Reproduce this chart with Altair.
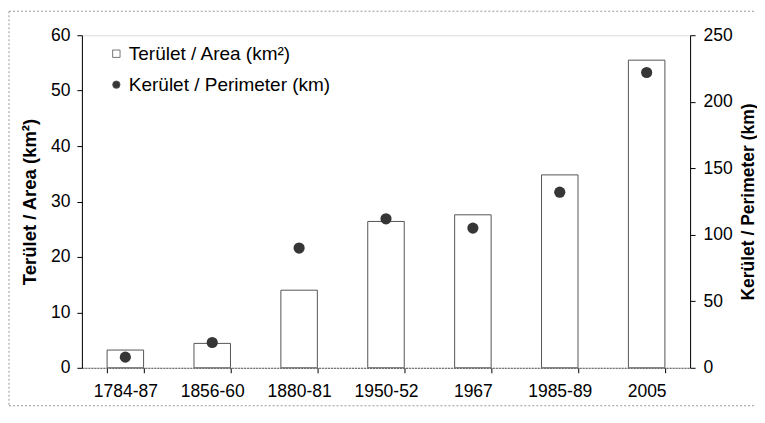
import altair as alt
import pandas as pd

periods = ["1784-87", "1856-60", "1880-81", "1950-52", "1967", "1985-89", "2005"]
area_km2 = [3.2, 4.4, 14.0, 26.4, 27.6, 34.8, 55.5]
perimeter_km = [8, 19, 90, 112, 105, 132, 222]

area_label = "Terület / Area (km²)"
perim_label = "Kerület / Perimeter (km)"
area_ticks = [0, 10, 20, 30, 40, 50, 60]
perim_ticks = [0, 50, 100, 150, 200, 250]

area_df = pd.DataFrame({"period": periods, "value": area_km2, "series": area_label})
perim_df = pd.DataFrame({"period": periods, "value": perimeter_km, "series": perim_label})
frame_df = pd.DataFrame({"f": [0]})

FONT = "Liberation Sans"

x_enc = alt.X(
    "period:N", sort=periods, title=None,
    scale=alt.Scale(paddingInner=0.58, paddingOuter=0.29),
    axis=alt.Axis(labelAngle=0, tickBand="extent", labelFontSize=17.5, labelColor="black",
                  domainColor="#555", domainDash=[2, 1], tickColor="black", tickSize=5,
                  labelPadding=10, labelFont=FONT),
)

series_domain = [area_label, perim_label]
fill_scale = alt.Scale(domain=series_domain, range=["white", "#363636"])
shape_scale = alt.Scale(domain=series_domain, range=["square", "circle"])


def make_legend():
    return alt.Legend(title=None, orient="none", legendX=25, legendY=9, labelFontSize=19,
                      labelFont=FONT, symbolSize=55, symbolStrokeColor="#555",
                      symbolStrokeWidth=0.8, rowPadding=11, labelColor="black",
                      labelOffset=3, labelLimit=500)


bars = alt.Chart(area_df).mark_bar(stroke="#555", strokeWidth=1).encode(
    x=x_enc,
    y=alt.Y("value:Q", scale=alt.Scale(domain=[0, 60]),
            axis=alt.Axis(title=area_label, values=area_ticks, orient="left", grid=False,
                          labelFontSize=17.5, labelColor="black", labelFont=FONT,
                          titleFontSize=18.5, titleFont=FONT, titleFontWeight="bold",
                          titleColor="black", titlePadding=11, domainColor="black",
                          tickColor="black", tickSize=5, labelPadding=7)),
    fill=alt.Fill("series:N", scale=fill_scale, legend=make_legend()),
)

points = alt.Chart(perim_df).mark_point(filled=True, size=125, opacity=1).encode(
    x=x_enc,
    y=alt.Y("value:Q", scale=alt.Scale(domain=[0, 250]),
            axis=alt.Axis(title=perim_label, values=perim_ticks, orient="right", grid=False,
                          labelFontSize=17.5, labelColor="black", labelFont=FONT,
                          titleFontSize=17.5, titleFont=FONT, titleFontWeight="bold",
                          titleAngle=270, titleBaseline="top", titleColor="black",
                          titlePadding=7, domainColor="black", tickColor="black",
                          tickSize=5, labelPadding=8)),
    fill=alt.Fill("series:N", scale=fill_scale, legend=make_legend()),
    shape=alt.Shape("series:N", scale=shape_scale, legend=make_legend()),
)

frame_style = dict(color="#999", strokeDash=[2, 2], strokeWidth=1)
frame_top = alt.Chart(frame_df).mark_rule(**frame_style).encode(
    x=alt.value(-73), x2=alt.value(674), y=alt.value(-24))
frame_left = alt.Chart(frame_df).mark_rule(**frame_style).encode(
    x=alt.value(-73), y=alt.value(-24), y2=alt.value(371))
frame_bottom = alt.Chart(frame_df).mark_rule(**frame_style).encode(
    x=alt.value(-73), x2=alt.value(674), y=alt.value(371))

chart = alt.layer(frame_top, frame_left, frame_bottom, bars, points).resolve_scale(
    y="independent"
).properties(
    width=609, height=333,
    padding={"left": 0, "top": 2, "right": 0, "bottom": 0},
    background="white",
).configure_view(stroke="#777", strokeDash=[2, 1], strokeWidth=1).configure(font=FONT)

chart.save("out.html", embed_options={"renderer": "svg", "actions": False})
